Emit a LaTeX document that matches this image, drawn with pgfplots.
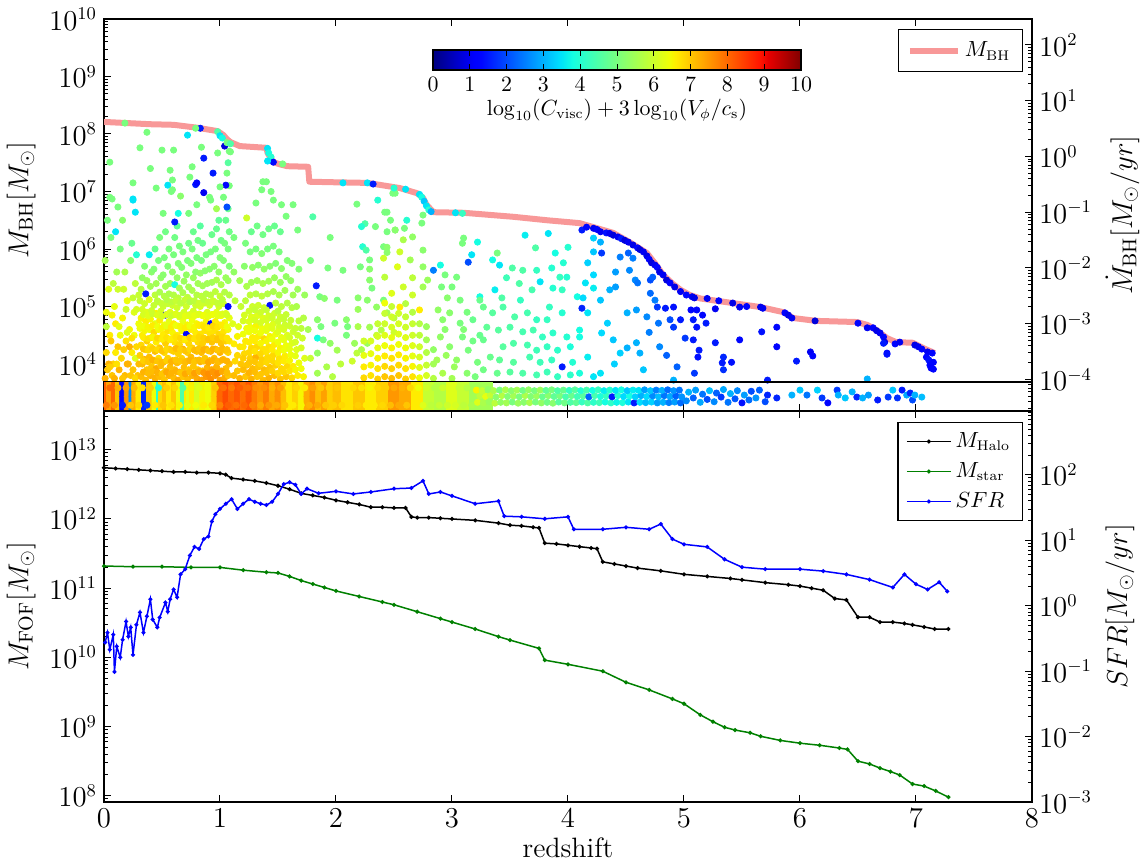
\documentclass[border=0pt]{standalone}
\usepackage{pgfplots}
\pgfplotsset{compat=1.18}
\usepackage{pgfplotstable}
\usetikzlibrary{calc}
\definecolor{mbh}{RGB}{248,152,152}
\definecolor{mplgreen}{RGB}{0,128,0}
\pgfplotsset{colormap={mpljet}{rgb(0pt)=(0,0,0.5); rgb(11pt)=(0,0,1); rgb(13pt)=(0,0.02,1); rgb(34pt)=(0,0.86,1); rgb(35pt)=(0,0.9,0.968); rgb(38pt)=(0.081,1,0.887); rgb(64pt)=(0.935,1,0.032); rgb(65pt)=(0.968,0.963,0); rgb(66pt)=(1,0.926,0); rgb(89pt)=(1,0.074,0); rgb(91pt)=(0.909,0,0); rgb(100pt)=(0.5,0,0)}}

\pgfplotstableread{
z lm
0.00 8.21
0.20 8.19
0.40 8.17
0.60 8.16
0.80 8.11
0.98 8.05
1.03 7.98
1.06 7.91
1.09 7.86
1.17 7.79
1.40 7.76
1.41 7.67
1.44 7.57
1.46 7.51
1.52 7.47
1.58 7.44
1.76 7.43
1.77 7.17
2.00 7.16
2.27 7.15
2.55 7.06
2.70 6.97
2.75 6.89
2.78 6.77
2.84 6.64
3.10 6.63
3.53 6.56
3.82 6.50
4.10 6.45
4.22 6.38
4.39 6.28
4.53 6.12
4.68 5.93
4.75 5.75
4.82 5.55
4.90 5.40
4.97 5.29
5.05 5.20
5.14 5.14
5.42 5.06
5.66 4.99
5.86 4.90
5.94 4.80
6.14 4.75
6.49 4.73
6.58 4.68
6.66 4.59
6.75 4.45
6.83 4.38
6.97 4.37
7.06 4.28
7.16 4.19
}\mbhline

\pgfplotstableread{
z lm c
0.01 5.8 5.5
0.02 4.2 6.8
0.03 3.9 7.0
0.02 4.9 6.4
0.04 5.3 6.2
0.05 4.5 6.6
0.06 6.2 5.0
0.07 3.8 7.0
0.08 4.0 6.9
0.09 5.0 6.3
0.10 4.7 6.6
0.11 5.6 5.5
0.12 4.3 7.0
0.13 3.9 7.2
0.14 6.0 5.0
0.15 4.1 6.8
0.16 4.8 6.5
0.17 5.3 6.0
0.18 3.8 7.1
0.19 4.4 6.7
0.20 5.1 6.4
0.21 4.0 7.1
0.22 4.6 6.5
0.23 5.8 5.2
0.24 4.2 6.6
0.25 3.9 7.0
0.26 4.9 6.2
0.27 5.4 5.8
0.28 4.3 6.8
0.29 3.8 7.0
0.30 4.7 6.4
0.06 4.4 7.0
0.12 5.3 6.0
0.18 5.6 5.6
0.22 4.3 7.2
0.26 4.5 6.4
0.03 6.5 5.0
0.16 6.5 5.2
0.24 6.1 4.8
0.10 6.3 3.5
0.28 5.9 4.0
0.08 5.4 5.8
0.14 4.5 6.4
0.20 4.0 7.2
0.04 4.0 7.2
0.11 4.0 6.7
0.27 4.1 6.2
0.01 3.75 7.2
0.05 3.95 6.9
0.09 3.75 7.2
0.10 4.2 6.6
0.13 4.65 6.3
0.16 3.75 7.0
0.17 4.25 6.9
0.20 4.55 6.2
0.23 3.80 7.0
0.24 4.45 6.7
0.27 3.75 6.8
0.28 4.95 6.1
0.02 4.65 5.8
0.07 4.85 6.5
0.19 4.95 6.0
0.25 5.15 5.9
0.30 4.0 7.1
0.30 5.2 5.9
0.32 3.78 7.1
0.33 4.00 7.1
0.31 4.15 6.9
0.32 4.33 6.8
0.33 4.50 6.6
0.31 4.62 6.4
0.32 4.80 6.5
0.33 4.95 6.1
0.31 5.10 5.9
0.32 5.30 5.7
0.33 5.50 5.3
0.36 3.72 7.1
0.37 3.90 7.0
0.35 4.08 7.2
0.36 4.25 6.8
0.37 4.40 6.9
0.35 4.58 6.5
0.36 4.74 6.6
0.37 4.90 6.2
0.35 5.05 6.0
0.36 5.22 1.5
0.37 5.45 5.4
0.35 5.70 5.1
0.40 3.80 7.2
0.41 3.95 7.0
0.39 4.12 7.1
0.40 4.30 6.7
0.41 4.46 6.8
0.39 4.60 6.4
0.40 4.78 6.5
0.41 4.93 6.0
0.39 5.12 6.2
0.40 5.35 5.5
0.41 5.60 5.2
0.39 5.90 3.6
0.44 3.75 7.2
0.45 3.92 7.3
0.43 4.05 6.9
0.44 4.22 7.1
0.45 4.38 6.6
0.43 4.55 6.8
0.44 4.70 6.3
0.45 4.88 6.5
0.43 5.02 5.9
0.44 5.20 5.8
0.45 5.40 5.5
0.43 5.65 5.1
0.44 6.00 4.8
0.48 3.78 7.1
0.49 3.97 7.1
0.47 4.10 6.8
0.48 4.28 7.0
0.49 4.45 6.7
0.47 4.60 6.5
0.48 4.76 6.6
0.49 4.92 6.1
0.47 5.08 5.9
0.48 5.25 5.6
0.49 5.50 5.3
0.47 5.80 5.0
0.48 6.20 5.0
0.52 3.73 7.0
0.53 3.88 7.0
0.51 4.03 7.2
0.52 4.20 6.8
0.53 4.36 6.9
0.51 4.52 6.6
0.52 4.68 6.4
0.53 4.85 1.4
0.51 5.00 6.0
0.52 5.18 5.7
0.53 5.35 5.5
0.51 5.55 5.2
0.52 5.85 5.0
0.53 6.30 4.9
0.56 3.80 7.2
0.57 3.95 7.1
0.55 4.10 6.9
0.56 4.26 7.1
0.57 4.42 6.6
0.55 4.58 6.7
0.56 4.74 6.3
0.57 4.90 6.2
0.55 5.05 5.9
0.56 5.22 5.6
0.57 5.40 5.4
0.55 5.70 5.1
0.56 6.00 5.0
0.60 3.76 7.1
0.61 3.90 7.1
0.59 4.06 7.0
0.60 4.22 6.9
0.61 4.38 6.7
0.59 4.55 6.5
0.60 4.70 6.6
0.61 4.86 6.1
0.59 5.02 6.0
0.60 5.20 5.7
0.61 5.38 3.8
0.59 5.60 5.3
0.60 5.90 5.0
0.61 6.20 4.9
0.64 3.72 7.3
0.65 3.86 7.2
0.63 4.02 7.1
0.64 4.18 6.9
0.65 4.34 6.8
0.63 4.50 6.6
0.64 4.66 6.5
0.65 4.82 6.2
0.63 4.98 6.0
0.64 5.15 5.8
0.65 5.32 5.5
0.63 5.50 5.3
0.64 5.75 5.1
0.65 6.05 5.0
0.63 6.40 4.7
0.68 3.78 7.0
0.69 3.94 7.1
0.67 4.10 6.9
0.68 4.26 7.2
0.69 4.42 6.7
0.67 4.58 6.5
0.68 4.74 6.3
0.69 4.90 6.1
0.67 5.06 5.9
0.68 5.24 5.6
0.69 5.44 5.4
0.67 5.68 5.1
0.68 5.95 5.0
0.72 3.74 7.1
0.73 3.90 7.0
0.71 4.05 7.0
0.72 4.20 6.9
0.73 4.36 6.8
0.71 4.52 1.3
0.72 4.68 6.5
0.73 4.84 6.2
0.71 5.00 6.0
0.72 5.16 5.8
0.73 5.34 5.5
0.71 5.55 5.3
0.72 5.80 5.0
0.73 6.10 4.9
0.76 3.80 7.2
0.77 3.96 7.0
0.75 4.12 7.1
0.76 4.28 6.9
0.77 4.44 6.7
0.75 4.60 6.6
0.76 4.76 6.4
0.77 4.92 6.1
0.75 5.10 5.9
0.76 5.28 5.6
0.77 5.50 5.4
0.75 5.75 5.1
0.76 6.00 5.0
0.77 6.30 4.8
0.80 3.75 7.3
0.81 3.90 7.0
0.79 4.06 7.2
0.80 4.22 7.0
0.81 4.38 6.8
0.79 4.54 6.6
0.80 4.70 6.5
0.81 4.86 6.3
0.79 5.02 6.0
0.80 5.20 5.7
0.81 5.40 5.5
0.79 5.60 5.2
0.80 5.85 5.0
0.81 6.15 4.9
0.84 3.72 7.4
0.85 3.88 7.1
0.83 4.04 7.2
0.84 4.20 7.1
0.85 4.36 6.9
0.83 4.52 6.7
0.84 4.68 6.6
0.85 4.84 6.4
0.83 5.00 6.1
0.84 5.18 5.8
0.85 5.36 5.5
0.83 5.58 5.3
0.84 5.80 5.0
0.85 6.10 4.8
0.83 6.40 4.6
0.88 3.78 7.5
0.89 3.94 7.2
0.87 4.10 7.0
0.88 4.26 7.1
0.89 4.42 6.9
0.87 4.58 6.7
0.88 4.74 6.5
0.89 4.90 6.2
0.87 5.06 6.0
0.88 5.22 5.7
0.89 5.40 5.5
0.87 5.62 5.2
0.88 5.90 5.0
0.92 3.74 7.6
0.93 3.90 7.3
0.91 4.06 7.1
0.92 4.22 7.2
0.93 4.38 7.0
0.91 4.54 6.7
0.92 4.70 1.2
0.93 4.86 6.3
0.91 5.02 6.1
0.92 5.20 5.8
0.93 5.42 5.5
0.91 5.65 5.2
0.92 5.95 5.0
0.93 6.25 4.8
0.96 3.80 7.5
0.97 3.95 7.2
0.95 4.10 7.1
0.96 4.26 7.1
0.97 4.42 7.0
0.95 4.58 6.7
0.96 4.74 6.6
0.97 4.90 6.3
0.95 5.08 6.1
0.96 5.26 5.8
0.97 5.46 5.6
0.95 5.70 5.2
0.96 6.00 5.0
0.97 6.35 4.8
1.00 3.72 7.4
1.01 3.88 7.2
0.99 4.04 7.1
1.00 4.20 7.2
1.01 4.36 7.0
0.99 4.52 6.8
1.00 4.68 6.6
1.01 4.84 6.4
0.99 5.00 6.1
1.00 5.18 5.9
1.01 5.38 5.6
0.99 5.60 5.3
1.00 5.85 5.1
1.01 6.15 4.9
0.99 6.50 4.7
1.04 3.76 7.3
1.05 3.92 7.1
1.03 4.08 7.0
1.04 4.24 7.0
1.05 4.40 6.9
1.03 4.56 6.7
1.04 4.72 6.5
1.05 4.88 6.2
1.03 5.05 6.0
1.04 5.25 5.7
1.05 5.50 5.4
1.03 5.80 5.1
1.04 6.10 5.0
1.05 6.50 4.8
1.03 6.90 5.0
1.07 3.80 7.0
1.08 4.00 7.1
1.07 4.20 6.9
1.08 4.40 6.7
1.07 4.60 6.5
1.08 4.80 6.3
1.07 5.00 1.3
1.08 5.20 5.7
1.07 5.45 5.4
1.08 5.70 5.1
1.07 6.00 5.0
1.08 6.30 4.9
1.07 6.70 4.8
1.08 7.10 5.0
1.07 7.50 4.6
1.08 7.70 5.0
0.34 3.86 7.2
0.34 4.06 6.9
0.34 4.26 7.0
0.34 4.46 6.6
0.34 4.66 6.4
0.34 4.86 6.1
0.38 3.84 7.1
0.38 4.04 7.0
0.38 4.24 6.8
0.38 4.44 6.7
0.38 4.64 6.5
0.38 4.84 6.2
0.42 3.87 7.1
0.42 4.07 7.2
0.42 4.27 6.9
0.42 4.47 6.5
0.42 4.67 6.6
0.42 4.87 6.0
0.46 3.85 7.2
0.46 4.05 7.0
0.46 4.25 6.8
0.46 4.45 6.8
0.46 4.65 6.4
0.46 4.85 6.2
0.46 5.10 5.8
0.50 3.83 7.0
0.50 4.03 7.1
0.50 4.23 7.0
0.50 4.43 6.6
0.50 4.63 6.5
0.50 4.83 6.1
0.50 5.05 5.9
0.54 3.86 7.3
0.54 4.06 6.9
0.54 4.26 6.8
0.54 4.46 6.7
0.54 4.66 6.3
0.54 4.86 6.2
0.54 5.12 5.7
0.58 3.84 7.2
0.58 4.04 7.2
0.58 4.24 6.9
0.58 4.44 6.6
0.58 4.64 6.6
0.58 4.84 6.0
0.58 5.08 5.8
0.62 3.87 7.2
0.62 4.07 7.0
0.62 4.27 7.1
0.62 4.47 6.7
0.62 4.67 6.4
0.62 4.87 6.2
0.62 5.10 5.9
0.66 3.85 7.0
0.66 4.05 7.0
0.66 4.25 6.9
0.66 4.45 6.8
0.66 4.65 6.5
0.66 4.85 6.1
0.66 5.06 5.8
0.70 3.83 7.3
0.70 4.03 7.1
0.70 4.23 7.0
0.70 4.43 6.6
0.70 4.63 6.6
0.70 4.83 6.3
0.70 5.12 5.9
0.74 3.86 7.1
0.74 4.06 7.2
0.74 4.26 6.8
0.74 4.46 6.9
0.74 4.66 6.4
0.74 4.86 6.2
0.74 5.08 5.7
0.78 3.84 7.4
0.78 4.04 7.0
0.78 4.24 7.1
0.78 4.44 6.7
0.78 4.64 6.5
0.78 4.84 6.3
0.78 5.10 5.8
0.82 3.87 7.2
0.82 4.07 7.1
0.82 4.27 7.0
0.82 4.47 6.8
0.82 4.67 6.6
0.82 4.87 6.2
0.82 5.06 6.0
0.86 3.85 7.5
0.86 4.05 7.0
0.86 4.25 7.2
0.86 4.45 6.9
0.86 4.65 6.7
0.86 4.85 6.4
0.86 5.12 5.8
0.90 3.83 7.6
0.90 4.03 7.3
0.90 4.23 7.0
0.90 4.43 7.0
0.90 4.63 6.6
0.90 4.83 6.3
0.90 5.08 5.9
0.94 3.86 7.5
0.94 4.06 7.2
0.94 4.26 7.2
0.94 4.46 6.9
0.94 4.66 6.8
0.94 4.86 6.4
0.94 5.10 6.0
0.98 3.84 7.6
0.98 4.04 7.1
0.98 4.24 7.0
0.98 4.44 7.0
0.98 4.64 6.7
0.98 4.84 6.3
0.98 5.06 5.9
1.02 3.87 7.3
1.02 4.07 7.2
1.02 4.27 7.1
1.02 4.47 6.8
1.02 4.67 6.6
1.02 4.87 6.2
1.02 5.12 5.8
1.06 3.85 7.1
1.06 4.05 7.2
1.06 4.25 7.0
1.06 4.45 6.7
1.06 4.65 6.4
1.06 4.85 6.1
0.55 7.11 3.5
0.79 7.12 1.5
1.05 7.11 1.2
0.86 6.98 1.0
0.45 7.06 5.0
0.07 6.87 5.0
0.25 6.87 3.5
0.27 6.64 3.5
0.58 7.00 5.0
0.66 6.92 5.2
0.51 6.62 5.0
0.61 6.47 1.5
0.64 6.62 3.8
0.73 6.62 5.0
0.80 6.77 5.0
0.92 6.85 5.0
0.97 6.70 5.5
1.06 6.73 2.0
0.37 8.03 5.0
0.83 8.10 1.5
0.72 7.98 3.5
0.18 8.19 5.0
0.79 8.10 5.0
0.31 7.76 5.0
0.50 7.72 5.0
0.60 7.72 5.0
0.84 7.77 5.0
1.04 7.79 0.8
1.09 7.69 5.0
0.98 7.67 5.0
0.86 7.58 1.5
0.05 7.51 5.0
0.76 7.43 5.0
0.94 7.32 1.5
0.57 7.37 5.0
0.74 7.25 5.0
1.06 7.32 5.0
0.25 7.15 5.0
0.59 7.20 5.0
0.80 7.15 1.2
0.91 6.90 5.0
1.00 7.08 5.0
0.40 7.40 5.0
0.59 7.03 5.0
0.25 6.85 3.5
0.12 6.73 5.0
0.05 6.90 5.0
0.98 8.04 4.5
1.00 7.97 3.5
1.02 7.93 3.8
1.06 7.85 5.0
1.09 7.83 4.5
1.41 7.75 3.5
1.42 7.67 3.8
1.44 7.60 4.0
1.46 7.51 1.2
1.54 7.48 5.0
1.36 7.03 5.0
1.40 7.17 5.0
1.41 7.53 3.5
2.06 7.15 3.5
2.27 7.15 3.5
2.32 7.13 1.5
1.12 3.80 7.1
1.13 4.05 6.8
1.12 4.35 6.6
1.11 4.70 6.2
1.13 5.10 5.8
1.12 5.60 5.3
1.12 6.20 5.0
1.17 3.75 7.2
1.18 4.00 7.0
1.17 4.30 6.7
1.16 4.65 6.3
1.18 5.00 5.9
1.17 5.45 5.5
1.22 3.78 7.0
1.23 3.98 7.0
1.21 4.18 6.8
1.22 4.40 6.6
1.23 4.62 6.4
1.21 4.85 6.1
1.22 5.10 5.8
1.23 5.35 5.6
1.21 5.70 5.2
1.22 6.10 5.0
1.23 6.54 6.0
1.27 3.74 7.2
1.28 3.92 7.1
1.26 4.10 6.9
1.27 4.28 6.8
1.28 4.46 6.6
1.26 4.64 6.4
1.27 4.82 6.2
1.28 5.00 6.0
1.26 5.20 5.8
1.27 5.42 5.5
1.28 5.68 5.3
1.26 5.95 5.0
1.27 6.30 4.8
1.32 3.78 7.0
1.33 3.95 7.0
1.31 4.12 7.2
1.32 4.30 6.8
1.33 4.48 6.6
1.31 4.66 6.5
1.32 4.84 6.2
1.33 5.02 6.0
1.31 5.22 5.7
1.32 5.45 5.5
1.33 5.72 5.2
1.31 6.00 5.0
1.32 6.40 4.9
1.31 6.80 5.0
1.37 3.72 7.1
1.38 3.90 7.1
1.36 4.08 6.9
1.37 4.26 6.7
1.38 4.44 6.8
1.36 4.62 6.4
1.37 4.80 6.2
1.38 4.98 6.0
1.36 5.18 5.8
1.37 5.40 5.6
1.38 5.65 5.3
1.36 5.92 5.1
1.37 6.25 4.9
1.37 7.17 5.0
1.42 3.76 7.2
1.43 3.94 7.0
1.41 4.12 6.8
1.42 4.30 6.7
1.43 4.48 6.5
1.41 4.66 6.3
1.42 4.84 6.1
1.43 5.02 1.4
1.41 5.22 5.7
1.42 5.44 5.5
1.43 5.70 5.2
1.41 6.00 5.0
1.42 6.35 4.9
1.44 7.00 5.0
1.47 3.80 7.1
1.48 3.98 6.9
1.46 4.16 6.8
1.47 4.34 6.6
1.48 4.52 6.4
1.46 4.70 6.2
1.47 4.88 6.0
1.48 5.06 5.8
1.46 5.26 5.6
1.47 5.50 5.4
1.48 5.75 5.1
1.46 6.05 5.0
1.47 6.40 4.8
1.46 6.85 5.0
1.52 3.74 7.0
1.53 3.92 6.8
1.51 4.10 6.7
1.52 4.28 6.5
1.53 4.46 6.3
1.51 4.64 6.1
1.52 4.82 6.0
1.53 5.00 5.8
1.51 5.20 5.6
1.52 5.42 5.4
1.53 5.66 5.2
1.51 5.95 5.0
1.52 6.30 4.8
1.53 6.77 5.0
1.57 3.78 7.0
1.58 3.96 6.8
1.56 4.14 6.6
1.57 4.32 6.4
1.58 4.50 6.2
1.56 4.68 6.0
1.57 4.86 5.9
1.58 5.06 5.7
1.56 5.28 5.5
1.57 5.52 5.3
1.58 5.80 5.1
1.57 6.57 5.0
1.62 3.76 6.8
1.63 3.96 6.6
1.61 4.16 6.4
1.62 4.36 6.2
1.63 4.56 6.0
1.61 4.76 5.9
1.62 4.98 5.7
1.63 5.20 5.5
1.61 5.45 5.3
1.62 5.75 5.1
1.63 6.77 5.0
1.67 3.80 6.6
1.68 4.02 6.4
1.66 4.25 6.2
1.67 4.50 6.0
1.68 4.75 5.8
1.66 5.00 5.6
1.67 5.30 5.4
1.68 5.65 5.1
1.67 6.33 5.0
1.72 3.78 6.5
1.73 4.10 6.2
1.71 4.45 6.0
1.72 4.80 5.7
1.73 5.20 5.4
1.15 3.88 7.0
1.15 4.15 6.8
1.15 4.48 6.5
1.20 3.90 7.1
1.20 4.10 6.9
1.20 4.30 6.6
1.20 4.52 6.4
1.20 4.75 6.1
1.25 3.85 7.2
1.25 4.02 7.0
1.25 4.20 6.8
1.25 4.38 6.6
1.25 4.56 6.4
1.25 4.74 6.2
1.25 4.92 6.0
1.30 3.86 7.1
1.30 4.04 7.0
1.30 4.22 6.7
1.30 4.40 6.6
1.30 4.58 6.4
1.30 4.76 6.1
1.30 4.94 5.9
1.35 3.82 7.0
1.35 4.00 6.9
1.35 4.18 6.8
1.35 4.36 6.5
1.35 4.54 6.4
1.35 4.72 6.1
1.35 4.90 6.0
1.40 3.85 7.0
1.40 4.03 6.8
1.40 4.21 6.7
1.40 4.40 6.5
1.40 4.58 6.3
1.40 4.76 6.1
1.40 4.94 5.9
1.45 3.88 6.9
1.45 4.06 6.8
1.45 4.25 6.6
1.45 4.43 6.4
1.45 4.62 6.2
1.45 4.80 6.0
1.50 3.84 6.8
1.50 4.02 6.7
1.50 4.20 6.5
1.50 4.38 6.4
1.50 4.56 6.2
1.50 4.74 6.0
1.50 4.92 5.8
1.55 3.86 6.8
1.55 4.05 6.6
1.55 4.24 6.4
1.55 4.42 6.3
1.55 4.60 6.1
1.55 4.78 5.9
1.60 3.88 6.7
1.60 4.06 6.5
1.60 4.26 6.3
1.60 4.46 6.1
1.60 4.66 6.0
1.65 3.90 6.5
1.65 4.14 6.3
1.65 4.38 6.1
1.65 4.62 5.9
1.70 3.92 6.4
1.70 4.28 6.1
1.70 4.62 5.8
1.80 6.56 4.5
1.93 5.67 5.0
2.06 5.63 5.0
2.18 6.78 5.0
1.83 5.36 1.5
1.86 5.17 5.0
1.90 5.14 5.2
2.01 5.11 5.0
1.84 4.77 5.2
1.87 4.65 5.0
1.84 4.45 3.8
1.89 4.42 5.0
1.99 4.71 5.0
2.09 4.77 5.2
2.10 4.65 5.0
2.09 4.50 5.0
1.95 4.36 5.3
2.01 4.24 5.5
1.84 4.19 5.3
1.92 3.95 5.6
2.04 4.00 5.8
1.84 3.84 5.5
1.97 3.78 5.7
2.16 4.36 5.4
2.18 4.19 5.8
2.14 4.05 6.0
2.22 4.25 5.6
2.27 4.36 5.4
2.29 5.46 5.2
2.31 5.32 5.0
2.27 5.11 5.2
2.35 4.99 5.3
2.41 5.11 5.0
2.44 4.89 5.5
2.50 4.80 5.8
2.29 4.64 5.5
2.39 4.59 5.7
2.35 4.50 5.9
2.50 4.55 6.0
2.23 6.04 4.0
2.26 5.98 4.5
2.29 5.81 5.0
2.21 5.69 5.0
2.29 5.65 5.2
2.41 6.04 5.0
2.44 5.94 5.2
2.47 6.50 5.0
2.51 6.97 5.0
2.19 5.15 5.2
2.19 4.95 5.4
2.19 4.65 5.6
1.78 5.80 5.0
1.95 6.20 5.0
1.76 4.60 5.5
1.78 4.10 5.9
2.36 6.85 4.0
2.44 6.64 5.0
2.25 6.44 4.5
2.22 6.39 4.0
2.34 6.39 5.0
2.51 6.33 5.0
2.44 6.30 5.0
2.49 6.97 5.0
2.42 6.64 5.0
2.51 6.33 5.2
2.59 6.36 5.0
2.61 6.50 4.0
2.75 6.59 5.0
2.74 6.45 5.0
2.66 6.21 5.3
2.58 6.16 5.6
2.44 6.03 5.2
2.75 5.98 5.2
2.55 5.95 6.0
2.41 5.84 6.0
2.64 5.81 5.5
2.53 5.69 6.2
2.75 5.69 5.3
2.42 5.51 5.8
2.66 5.50 5.8
2.58 5.34 6.0
2.75 5.34 5.5
2.79 5.46 5.4
2.48 5.23 6.2
2.66 5.20 6.0
2.42 5.06 6.4
2.55 4.99 6.6
2.72 4.94 6.6
2.24 3.76 6.8
2.24 3.95 6.6
2.24 4.15 6.3
2.24 4.40 6.0
2.30 3.80 6.7
2.30 3.98 6.5
2.30 4.18 6.3
2.30 4.40 6.1
2.36 3.74 6.9
2.36 3.92 6.7
2.36 4.10 6.5
2.36 4.28 6.3
2.36 4.48 6.1
2.36 4.70 5.9
2.42 3.78 7.0
2.42 3.96 6.8
2.42 4.14 6.6
2.42 4.32 6.4
2.42 4.50 6.2
2.42 4.70 6.0
2.42 4.88 5.9
2.48 3.75 7.1
2.48 3.92 6.9
2.48 4.10 6.7
2.48 4.28 6.5
2.48 4.46 6.3
2.48 4.64 6.1
2.48 4.82 6.0
2.48 5.00 5.9
2.54 3.80 7.0
2.54 3.98 6.8
2.54 4.16 6.6
2.54 4.34 6.4
2.54 4.52 6.2
2.54 4.70 6.1
2.54 4.88 6.0
2.60 3.74 6.9
2.60 3.92 6.7
2.60 4.10 6.5
2.60 4.28 6.4
2.60 4.46 6.2
2.60 4.64 6.0
2.60 4.82 5.9
2.60 5.05 5.7
2.66 3.78 6.7
2.66 3.96 6.5
2.66 4.14 6.3
2.66 4.32 6.2
2.66 4.50 6.0
2.66 4.70 5.9
2.66 4.90 5.7
2.72 3.76 6.4
2.72 3.94 6.2
2.72 4.12 6.1
2.72 4.30 6.0
2.72 4.50 5.8
2.72 4.70 5.7
2.78 3.80 6.1
2.78 3.98 5.9
2.78 4.20 5.7
2.78 4.42 5.5
2.78 4.65 5.4
2.84 3.75 5.7
2.84 4.00 5.5
2.84 4.25 5.3
2.72 6.95 3.5
2.74 6.90 3.8
2.76 6.83 3.2
2.78 6.75 3.5
2.80 6.68 4.0
2.82 6.65 3.0
2.60 7.04 3.5
2.50 7.06 4.0
3.03 6.63 3.5
3.09 6.62 4.2
2.84 5.63 2.5
2.90 5.72 3.8
2.94 5.55 5.0
3.04 5.51 5.0
3.09 6.10 5.0
3.10 6.19 5.0
3.22 6.12 3.8
3.17 5.90 3.5
3.14 5.77 2.0
2.91 5.34 5.0
3.00 5.34 5.0
3.07 5.11 5.0
2.96 5.15 5.2
3.13 4.90 5.0
2.98 4.89 5.2
2.88 4.94 5.3
2.92 4.77 5.2
3.07 4.71 5.0
3.18 4.77 4.8
3.24 5.17 3.8
3.24 4.50 4.8
3.09 4.47 5.0
2.90 4.47 5.3
2.98 4.30 5.2
3.14 4.24 5.0
2.87 4.07 5.5
3.04 4.07 5.3
3.22 4.03 5.0
2.92 3.84 5.6
3.13 3.84 5.2
3.02 3.95 5.4
3.18 4.40 4.9
3.10 4.60 5.1
2.95 4.15 5.4
3.20 3.78 5.0
3.00 3.75 5.5
2.94 4.60 5.2
3.39 5.93 5.0
3.35 5.81 3.8
3.52 5.67 4.5
3.61 5.63 4.5
3.73 5.63 4.2
3.63 6.24 3.6
3.83 6.27 3.5
3.72 6.02 4.5
3.89 5.93 3.8
4.00 6.03 4.0
3.96 5.76 4.0
3.86 5.67 4.0
3.93 5.51 4.2
3.76 5.43 3.5
3.87 5.32 4.0
3.69 5.29 4.4
3.95 5.29 4.2
3.37 5.29 3.6
3.43 5.15 4.5
3.24 5.11 4.8
3.59 5.11 4.2
3.84 4.99 4.2
3.27 4.99 4.8
3.35 4.89 4.6
3.44 4.99 4.5
3.54 4.82 4.5
3.65 4.89 4.4
3.73 4.77 4.2
3.82 4.77 4.2
3.95 4.89 4.0
3.30 4.64 4.7
3.40 4.59 4.6
3.50 4.64 4.5
3.61 4.56 4.4
3.70 4.59 4.4
3.78 4.47 4.2
3.87 4.54 4.1
3.99 4.47 4.0
3.27 4.42 4.8
3.44 4.30 4.6
3.53 4.36 4.5
3.65 4.33 4.4
3.73 4.24 4.3
3.82 4.30 4.2
3.91 4.24 4.1
4.02 4.30 3.9
3.33 4.12 4.8
3.41 4.07 4.7
3.53 4.03 4.6
3.67 4.12 4.4
3.76 4.03 4.3
3.86 4.07 4.2
3.95 3.95 1.5
4.04 4.03 4.0
3.27 3.90 4.9
3.39 3.84 4.8
3.50 3.86 4.6
3.61 3.84 4.5
3.73 3.81 4.4
3.82 3.86 4.3
3.91 3.78 4.2
4.02 3.81 4.1
4.10 3.84 3.9
4.22 3.78 3.5
3.99 5.51 4.0
4.08 5.17 3.8
4.10 4.59 3.8
3.58 5.40 4.5
3.47 5.50 4.3
3.41 5.72 3.5
4.12 6.33 1.5
4.16 6.38 1.3
4.22 6.19 3.3
4.28 6.12 3.0
4.29 5.93 1.8
4.22 5.95 3.2
4.17 5.76 3.3
4.22 5.55 3.4
4.15 5.41 3.5
4.22 5.32 3.6
4.12 4.97 1.6
4.13 5.15 3.4
4.17 4.89 3.5
4.28 5.11 3.2
4.36 5.29 3.0
4.41 5.34 2.8
4.45 5.86 2.5
4.41 5.60 2.8
4.52 5.93 2.2
4.56 5.84 2.5
4.53 5.63 2.6
4.58 5.46 2.6
4.60 5.41 2.4
4.71 5.46 2.0
4.73 5.51 2.2
4.71 5.23 2.3
4.75 5.11 2.5
4.77 4.99 1.8
4.51 4.89 3.0
4.59 4.94 2.8
4.68 4.82 2.6
4.78 4.71 2.4
4.84 4.97 1.5
4.91 4.99 1.4
4.88 4.77 2.0
4.91 4.64 1.8
4.97 4.77 1.5
5.01 4.45 1.8
5.08 4.42 1.5
5.11 4.94 1.3
5.09 3.84 1.8
4.94 3.95 2.2
4.91 3.72 3.0
4.65 3.90 3.2
4.51 4.28 3.0
4.59 4.37 3.0
4.39 4.42 3.2
4.45 4.19 3.3
4.62 4.19 3.0
4.79 4.30 2.6
4.29 4.54 3.4
4.34 4.71 3.3
4.10 4.47 3.8
4.17 4.12 3.6
4.28 3.84 3.5
4.40 4.00 3.3
4.70 4.55 2.5
4.85 4.15 2.2
4.22 6.36 1.0
4.25 6.34 1.2
4.28 6.30 1.0
4.33 6.28 1.4
4.36 6.27 1.0
4.39 6.24 0.8
4.43 6.21 1.0
4.46 6.18 1.5
4.49 6.15 0.8
4.52 6.12 1.0
4.56 6.07 0.9
4.60 6.02 1.2
4.62 5.99 0.8
4.65 5.95 1.0
4.68 5.88 0.9
4.70 5.82 1.1
4.72 5.76 0.8
4.75 5.72 1.0
4.77 5.68 1.2
4.79 5.60 0.9
4.82 5.55 1.0
4.85 5.46 0.8
4.88 5.41 1.1
4.92 5.34 0.9
4.97 5.26 1.0
5.02 5.20 1.3
5.07 5.17 1.0
5.09 5.15 0.9
5.27 4.37 1.5
5.48 4.42 1.3
5.67 4.56 1.4
5.80 4.30 1.2
5.97 4.05 1.5
6.09 4.21 1.0
6.11 4.14 1.2
5.13 4.24 1.5
5.12 4.12 1.4
5.34 4.12 1.6
5.33 4.02 1.5
5.34 3.90 1.7
5.41 4.03 1.4
5.06 4.94 1.2
5.08 4.77 1.5
5.11 4.64 1.4
5.16 4.85 1.3
5.19 4.71 1.5
5.27 4.96 1.0
5.80 4.64 1.3
5.72 3.72 1.5
6.58 3.74 3.0
5.20 5.14 1.0
5.30 5.10 1.2
5.42 5.06 0.9
5.48 4.99 1.0
5.54 5.00 1.2
5.66 4.99 0.9
5.68 4.97 1.0
5.87 4.89 1.1
5.90 4.85 0.9
5.93 4.80 1.0
6.13 4.75 0.8
6.50 4.71 1.2
6.58 4.63 1.0
6.63 4.63 1.1
6.66 4.58 0.9
6.69 4.54 1.0
6.72 4.47 1.2
6.73 4.38 0.9
6.75 4.19 1.3
6.72 4.36 1.5
6.82 4.35 1.2
6.86 4.38 1.0
6.99 4.33 0.9
7.02 4.30 1.0
7.05 4.26 1.1
7.10 4.21 1.0
7.14 4.19 1.2
7.09 4.12 1.3
7.11 4.07 1.4
7.15 4.03 1.2
7.12 3.98 1.3
7.13 3.93 1.1
7.15 3.91 1.2
6.75 4.17 1.4
}\topscatter

\pgfplotstableread{
z y c
0.00 0.16 8.1
0.04 0.16 7.4
0.08 0.16 8.0
0.12 0.16 7.0
0.15 0.16 1.3
0.20 0.16 7.5
0.23 0.16 2.6
0.25 0.16 7.3
0.30 0.16 6.6
0.345 0.16 1.6
0.39 0.16 7.0
0.44 0.16 6.4
0.46 0.16 4.0
0.48 0.16 6.8
0.52 0.16 7.1
0.56 0.16 6.6
0.60 0.16 7.0
0.64 0.16 6.4
0.68 0.16 4.5
0.70 0.16 6.6
0.72 0.16 6.3
0.76 0.16 6.6
0.80 0.16 6.1
0.85 0.16 6.5
0.90 0.16 6.4
0.95 0.16 6.9
1.00 0.16 8.0
1.05 0.16 8.3
1.10 0.16 8.0
1.15 0.16 8.2
1.20 0.16 7.9
1.25 0.16 8.2
1.30 0.16 7.8
1.35 0.16 7.5
1.40 0.16 7.8
1.45 0.16 7.3
1.50 0.16 7.6
1.55 0.16 7.1
1.60 0.16 6.6
1.65 0.16 6.9
1.70 0.16 6.5
1.75 0.16 7.3
1.80 0.16 7.6
1.85 0.16 7.1
1.90 0.16 7.4
1.95 0.16 6.9
2.00 0.16 7.1
2.10 0.16 6.7
2.20 0.16 7.0
2.30 0.16 6.6
2.40 0.16 6.9
2.50 0.16 7.5
2.60 0.16 7.3
2.70 0.16 6.6
2.80 0.16 5.9
2.90 0.16 5.7
3.00 0.16 6.2
3.10 0.16 5.9
3.20 0.16 5.5
3.30 0.16 5.5
0.00 0.84 8.1
0.04 0.84 7.4
0.08 0.84 8.0
0.12 0.84 7.0
0.15 0.84 1.3
0.20 0.84 7.5
0.23 0.84 2.6
0.25 0.84 7.3
0.30 0.84 6.6
0.345 0.84 1.6
0.39 0.84 7.0
0.44 0.84 6.4
0.46 0.84 4.0
0.48 0.84 6.8
0.52 0.84 7.1
0.56 0.84 6.6
0.60 0.84 7.0
0.64 0.84 6.4
0.68 0.84 4.5
0.70 0.84 6.6
0.72 0.84 6.3
0.76 0.84 6.6
0.80 0.84 6.1
0.85 0.84 6.5
0.90 0.84 6.4
0.95 0.84 6.9
1.00 0.84 8.0
1.05 0.84 8.3
1.10 0.84 8.0
1.15 0.84 8.2
1.20 0.84 7.9
1.25 0.84 8.2
1.30 0.84 7.8
1.35 0.84 7.5
1.40 0.84 7.8
1.45 0.84 7.3
1.50 0.84 7.6
1.55 0.84 7.1
1.60 0.84 6.6
1.65 0.84 6.9
1.70 0.84 6.5
1.75 0.84 7.3
1.80 0.84 7.6
1.85 0.84 7.1
1.90 0.84 7.4
1.95 0.84 6.9
2.00 0.84 7.1
2.10 0.84 6.7
2.20 0.84 7.0
2.30 0.84 6.6
2.40 0.84 6.9
2.50 0.84 7.5
2.60 0.84 7.3
2.70 0.84 6.6
2.80 0.84 5.9
2.90 0.84 5.7
3.00 0.84 6.2
3.10 0.84 5.9
3.20 0.84 5.5
3.30 0.84 5.5
}\stripband

\pgfplotstableread{
z y c
0.02 0.20 7.8
0.09 0.20 7.5
0.16 0.20 1.5
0.23 0.20 7.0
0.30 0.20 6.8
0.37 0.20 1.8
0.44 0.20 6.6
0.51 0.20 7.0
0.58 0.20 6.7
0.65 0.20 6.5
0.72 0.20 6.3
0.79 0.20 6.4
0.86 0.20 6.6
0.93 0.20 6.8
1.00 0.20 7.7
1.07 0.20 8.1
1.14 0.20 7.9
1.21 0.20 8.0
1.28 0.20 7.7
1.35 0.20 7.3
1.42 0.20 7.5
1.49 0.20 7.3
1.56 0.20 7.0
1.63 0.20 6.6
1.70 0.20 6.5
1.77 0.20 7.2
1.84 0.20 7.3
1.91 0.20 7.0
1.98 0.20 6.9
2.05 0.20 6.8
2.12 0.20 6.7
2.19 0.20 6.9
2.26 0.20 6.6
2.33 0.20 6.6
2.40 0.20 6.8
2.47 0.20 7.1
2.54 0.20 7.3
2.61 0.20 7.0
2.68 0.20 6.6
2.75 0.20 6.2
2.82 0.20 5.8
2.89 0.20 5.9
2.96 0.20 6.0
3.03 0.20 6.1
3.10 0.20 5.8
3.17 0.20 5.6
0.05 0.80 8.0
0.12 0.80 7.2
0.19 0.80 7.4
0.26 0.80 7.1
0.33 0.80 6.7
0.40 0.80 6.9
0.47 0.80 4.0
0.54 0.80 6.9
0.61 0.80 6.8
0.68 0.80 4.6
0.75 0.80 6.5
0.82 0.80 6.2
0.89 0.80 6.4
0.96 0.80 7.0
1.03 0.80 7.9
1.10 0.80 7.8
1.17 0.80 8.1
1.24 0.80 7.9
1.31 0.80 7.6
1.38 0.80 7.6
1.45 0.80 7.2
1.52 0.80 7.4
1.59 0.80 6.6
1.66 0.80 6.8
1.73 0.80 6.6
1.80 0.80 7.4
1.87 0.80 7.0
1.94 0.80 6.9
2.01 0.80 7.0
2.08 0.80 6.7
2.15 0.80 6.8
2.22 0.80 6.7
2.29 0.80 6.5
2.36 0.80 6.8
2.43 0.80 6.9
2.50 0.80 7.3
2.57 0.80 7.2
2.64 0.80 6.8
2.71 0.80 6.4
2.78 0.80 6.0
2.85 0.80 5.7
2.92 0.80 6.0
2.99 0.80 6.2
3.06 0.80 5.9
3.13 0.80 5.7
3.22 0.30 6.2
3.24 0.52 5.8
3.21 0.72 6.5
3.27 0.28 5.6
3.29 0.50 6.3
3.26 0.70 5.9
3.32 0.32 5.4
3.33 0.55 5.9
3.31 0.74 5.3
3.37 0.27 5.8
3.38 0.48 5.2
3.36 0.70 5.6
3.42 0.30 5.3
3.43 0.53 5.7
3.41 0.72 5.0
3.47 0.28 5.5
3.48 0.50 5.1
3.46 0.73 5.6
3.52 0.31 5.0
3.53 0.52 5.5
3.51 0.70 5.2
3.57 0.27 5.4
3.58 0.49 5.0
3.56 0.72 5.5
3.62 0.30 5.2
3.63 0.53 5.6
3.61 0.71 4.9
3.67 0.29 5.6
3.68 0.50 5.1
3.66 0.73 5.3
3.72 0.31 5.0
3.73 0.52 5.4
3.71 0.70 5.0
3.77 0.28 5.3
3.78 0.49 4.8
3.76 0.72 5.4
3.82 0.30 4.9
3.83 0.53 5.2
3.81 0.71 4.7
3.87 0.27 5.2
3.88 0.50 4.7
3.86 0.73 5.0
3.92 0.31 4.6
3.93 0.52 5.0
3.91 0.70 4.5
3.97 0.28 4.9
3.98 0.49 4.4
3.96 0.72 4.8
4.02 0.30 4.5
4.03 0.53 4.8
4.01 0.71 4.2
4.07 0.29 4.7
4.08 0.50 4.3
4.06 0.73 4.6
4.12 0.31 4.2
4.13 0.52 4.6
4.11 0.70 4.0
4.17 0.28 4.5
4.18 0.49 2.2
4.16 0.72 4.4
4.22 0.30 4.1
4.23 0.53 4.4
4.21 0.71 3.8
4.27 0.29 4.3
4.28 0.50 3.9
4.26 0.73 4.2
4.32 0.31 3.8
4.33 0.52 4.2
4.31 0.70 3.6
4.37 0.28 4.1
4.38 0.49 1.5
4.36 0.72 4.0
4.42 0.30 3.7
4.43 0.53 4.0
4.41 0.71 3.5
4.47 0.29 3.9
4.48 0.50 3.4
4.46 0.73 3.8
4.52 0.31 3.5
4.53 0.52 3.8
4.51 0.70 3.2
4.57 0.28 1.5
4.58 0.49 3.3
4.56 0.72 3.6
4.62 0.30 3.4
4.63 0.53 3.0
4.61 0.71 3.5
4.67 0.29 3.1
4.68 0.50 3.4
4.66 0.73 2.8
4.72 0.31 3.3
4.73 0.52 2.6
4.71 0.70 3.2
4.77 0.28 2.8
4.78 0.49 3.1
4.76 0.72 2.5
4.82 0.30 3.0
4.83 0.53 2.4
4.81 0.71 3.0
4.87 0.29 2.5
4.88 0.50 2.9
4.86 0.73 2.3
4.92 0.31 2.8
4.93 0.52 2.2
4.91 0.70 2.7
4.97 0.28 2.3
4.98 0.49 2.7
4.96 0.72 2.4
5.02 0.35 2.6
5.04 0.65 3.0
5.08 0.45 2.2
5.10 0.72 2.8
5.14 0.30 2.9
5.16 0.58 2.4
5.20 0.40 2.0
5.22 0.70 3.1
5.26 0.32 2.6
5.28 0.62 2.2
5.32 0.48 1.8
5.34 0.74 2.9
5.38 0.30 2.4
5.40 0.60 3.0
5.44 0.42 2.1
5.46 0.70 2.6
5.50 0.28 1.4
5.52 0.55 2.8
5.56 0.38 2.3
5.58 0.68 2.0
5.62 0.45 2.7
5.65 0.72 2.2
5.70 0.32 2.0
5.72 0.55 1.6
5.80 0.45 1.6
5.93 0.55 3.0
6.00 0.72 3.2
6.06 0.55 2.4
6.15 0.72 3.3
6.24 0.28 1.2
6.19 0.45 1.8
6.32 0.72 1.8
6.33 0.55 3.0
6.39 0.45 3.2
6.45 0.66 3.0
6.49 0.48 1.6
6.54 0.45 3.0
6.59 0.55 2.8
6.67 0.38 1.5
6.76 0.48 1.8
6.80 0.72 3.2
6.84 0.45 1.7
6.88 0.72 1.5
6.92 0.55 2.9
6.95 0.62 1.6
6.97 0.38 2.0
6.99 0.55 3.0
7.05 0.48 3.1
}\stripdots

\pgfplotstableread{
z lm
0.00 12.74
0.10 12.73
0.20 12.72
0.30 12.71
0.40 12.70
0.50 12.69
0.60 12.68
0.70 12.68
0.80 12.67
0.90 12.67
1.00 12.66
1.05 12.64
1.10 12.59
1.20 12.57
1.30 12.55
1.40 12.52
1.50 12.48
1.60 12.43
1.70 12.37
1.80 12.34
1.90 12.31
2.00 12.27
2.10 12.24
2.20 12.21
2.30 12.17
2.40 12.17
2.50 12.16
2.60 12.16
2.65 12.03
2.70 12.02
2.80 12.02
2.90 12.01
3.00 12.00
3.20 11.98
3.40 11.94
3.50 11.91
3.60 11.90
3.70 11.88
3.75 11.87
3.80 11.65
3.90 11.64
4.00 11.62
4.10 11.60
4.20 11.58
4.25 11.57
4.30 11.38
4.40 11.35
4.50 11.32
4.60 11.29
4.80 11.25
5.00 11.20
5.20 11.17
5.40 11.14
5.50 11.12
5.70 11.08
5.90 11.05
6.00 11.03
6.10 11.00
6.20 10.97
6.30 10.85
6.40 10.83
6.50 10.58
6.60 10.58
6.69 10.51
6.80 10.51
6.90 10.49
6.97 10.47
7.07 10.44
7.16 10.41
7.28 10.41
}\halo

\pgfplotstableread{
z lm
0.00 11.32
0.25 11.31
0.50 11.31
0.75 11.30
1.00 11.30
1.20 11.26
1.40 11.23
1.50 11.22
1.60 11.17
1.70 11.11
1.80 11.06
1.90 11.01
2.00 10.96
2.20 10.88
2.40 10.80
2.50 10.76
2.70 10.66
2.90 10.56
3.00 10.51
3.20 10.41
3.40 10.30
3.50 10.25
3.75 10.13
3.80 9.96
4.00 9.90
4.30 9.80
4.50 9.64
4.70 9.53
4.90 9.40
5.00 9.33
5.14 9.17
5.25 9.07
5.35 8.99
5.44 8.95
5.57 8.91
5.66 8.86
5.83 8.80
6.00 8.76
6.17 8.73
6.34 8.69
6.41 8.67
6.50 8.50
6.60 8.46
6.69 8.40
6.78 8.35
6.86 8.30
6.97 8.17
7.07 8.14
7.17 8.07
7.28 7.98
}\star

\pgfplotstableread{
z ls
0.01 -0.56
0.03 -0.41
0.05 -0.67
0.08 -0.44
0.09 -1.01
0.11 -0.62
0.14 -0.79
0.16 -0.52
0.19 -0.24
0.21 -0.47
0.23 -0.33
0.25 -0.75
0.28 -0.29
0.31 -0.10
0.34 -0.41
0.37 -0.16
0.40 0.10
0.42 -0.21
0.46 -0.33
0.48 -0.18
0.53 0.05
0.55 -0.09
0.57 0.10
0.60 0.25
0.63 0.13
0.66 0.48
0.70 0.56
0.74 0.77
0.78 0.90
0.82 0.87
0.86 1.02
0.90 1.06
0.93 1.29
0.96 1.40
1.00 1.48
1.05 1.56
1.10 1.63
1.15 1.48
1.20 1.56
1.25 1.63
1.30 1.59
1.35 1.56
1.40 1.54
1.45 1.59
1.50 1.71
1.55 1.86
1.60 1.89
1.65 1.85
1.70 1.71
1.75 1.79
1.85 1.72
2.00 1.75
2.15 1.71
2.30 1.74
2.50 1.79
2.65 1.80
2.75 1.91
2.80 1.71
2.90 1.74
3.00 1.68
3.20 1.56
3.40 1.60
3.45 1.37
3.60 1.36
3.80 1.33
4.00 1.36
4.05 1.17
4.30 1.17
4.50 1.20
4.70 1.17
4.80 1.25
4.90 1.02
5.00 0.94
5.20 0.90
5.35 0.71
5.50 0.59
5.70 0.56
6.00 0.56
6.20 0.53
6.40 0.48
6.60 0.40
6.80 0.28
6.90 0.48
7.00 0.33
7.10 0.25
7.20 0.36
7.27 0.22
}\sfr

\pgfplotsset{
  every axis/.append style={
    scale only axis,
    tick label style={font=\fontsize{13.5}{15}\selectfont},
    label style={font=\fontsize{14}{16}\selectfont},
    major tick length=3.5pt,
    minor tick length=1.8pt,
    tick style={black, line width=0.5pt},
    axis line style={line width=0.8pt},
    tick align=inside,
  },
}

\begin{document}
\begin{tikzpicture}
\useasboundingbox (0,0) rectangle (572.5pt,-431pt);

% ---------- top panel: frame with log ticks (left)
\begin{axis}[at={(52pt,-9.5pt)}, anchor=north west, width=464pt, height=181.5pt,
  xmin=0, xmax=8, ymode=log, ymin=4864, ymax=1e10,
  xtick={0,...,8}, xticklabels={}, xtick pos=right,
  ytick pos=left,
  ylabel={$M_{\rm BH}[M_\odot]$}]
\end{axis}

% ---------- top panel: data (log10 units)
\begin{axis}[at={(52pt,-9.5pt)}, anchor=north west, width=464pt, height=181.5pt,
  xmin=0, xmax=8, ymin=3.687, ymax=10,
  axis line style={draw=none}, xtick=\empty, ytick=\empty,
  colormap name=mpljet, point meta min=0, point meta max=10,
  colorbar horizontal,
  colorbar style={
    at={($(parent axis.north west)+(164.5pt,-7pt)$)}, anchor=north west,
    width=184pt, height=10pt,
    xtick={0,...,10}, xtick pos=both, xticklabel pos=left,
    tick align=inside, major tick length=3pt,
    axis line style={line width=0.6pt},
    tick label style={font=\fontsize{10.5}{12}\selectfont},
    xlabel={$\log_{10}(C_{\rm visc})+3\log_{10}(V_\phi/c_{\rm s})$},
    label style={font=\fontsize{10.5}{12}\selectfont},
    xlabel style={yshift=3pt},
  },
  legend style={at={(0.99,0.972)}, anchor=north east, draw=black, line width=0.6pt,
    font=\fontsize{10.5}{12}\selectfont, inner xsep=4pt, inner ysep=4pt},
  legend cell align=left,
  legend image code/.code={\draw[#1] (0pt,0pt) -- (24pt,0pt);},
]
\addplot[mbh, line width=3pt, line join=round] table[x=z, y=lm] {\mbhline};
\addlegendentry{$M_{\rm BH}$}
\addplot[scatter, only marks, mark=*, mark size=1.55pt, point meta=explicit,
  scatter/use mapped color={draw=mapped color, fill=mapped color},
  forget plot] table[x=z, y=lm, meta=c] {\topscatter};
\end{axis}

% ---------- strip
\begin{axis}[at={(52pt,-191pt)}, anchor=north west, width=464pt, height=14.5pt,
  xmin=0, xmax=8, ymin=0, ymax=1, ytick=\empty,
  xtick={0,...,8}, xticklabels={}, xtick pos=left,
  colormap name=mpljet, point meta min=0, point meta max=10]
\addplot[matrix plot*, mesh/cols=60, point meta=explicit] table[x=z, y=y, meta=c] {\stripband};
\addplot[scatter, only marks, mark=*, mark size=1.55pt, point meta=explicit,
  scatter/use mapped color={draw=mapped color, fill=mapped color}]
  table[x=z, y=y, meta=c] {\stripdots};
\end{axis}

% ---------- top right axis (Mdot)
\begin{axis}[at={(52pt,-9.5pt)}, anchor=north west, width=464pt, height=196pt,
  xmin=0, xmax=8, ymode=log, ymin=2.72e-5, ymax=292.4,
  axis line style={draw=none}, xtick=\empty,
  ytick pos=right, yticklabel pos=right,
  ylabel={$\dot M_{\rm BH}[M_\odot/yr]$}]
\end{axis}

% ---------- bottom panel frame
\begin{axis}[at={(52pt,-205.5pt)}, anchor=north west, width=464pt, height=195.5pt,
  xmin=0, xmax=8, ymode=log, ymin=8.13e7, ymax=3.63e13,
  xtick={0,...,8}, xtick pos=both, xticklabel pos=left,
  ytick pos=left,
  xlabel={redshift}, ylabel={$M_{\rm FOF}[M_\odot]$},
  xlabel style={yshift=2pt}]
\end{axis}

% ---------- bottom panel masses (log10 units)
\begin{axis}[at={(52pt,-205.5pt)}, anchor=north west, width=464pt, height=195.5pt,
  xmin=0, xmax=8, ymin=7.91, ymax=13.56,
  axis line style={draw=none}, xtick=\empty, ytick=\empty]
\addplot[black, line width=0.75pt, mark=*, mark size=0.6pt] table[x=z, y=lm] {\halo};
\addplot[mplgreen, line width=0.75pt, mark=*, mark size=0.6pt] table[x=z, y=lm] {\star};
\end{axis}

% ---------- bottom right SFR axis
\begin{axis}[at={(52pt,-205.5pt)}, anchor=north west, width=464pt, height=195.5pt,
  xmin=0, xmax=8, ymode=log, ymin=1e-3, ymax=950,
  axis line style={draw=none}, xtick=\empty,
  ytick pos=right, yticklabel pos=right,
  ylabel={$SFR[M_\odot/yr]$}]
\end{axis}

% ---------- SFR data and legend (log10 units)
\begin{axis}[at={(52pt,-205.5pt)}, anchor=north west, width=464pt, height=195.5pt,
  xmin=0, xmax=8, ymin=-3, ymax=2.978,
  axis line style={draw=none}, xtick=\empty, ytick=\empty,
  legend style={at={(0.99,0.972)}, anchor=north east, draw=black, line width=0.6pt,
    font=\fontsize{10.5}{12}\selectfont, inner xsep=4pt, inner ysep=3pt, row sep=2pt},
  legend cell align=left,
  legend image code/.code={\draw[mark repeat=2, mark phase=2, #1] plot coordinates {(0pt,0pt) (11pt,0pt) (22pt,0pt)};},
]
\addlegendimage{black, line width=0.75pt, mark=*, mark size=0.6pt}
\addlegendentry{$M_{\rm Halo}$}
\addlegendimage{mplgreen, line width=0.75pt, mark=*, mark size=0.6pt}
\addlegendentry{$M_{\rm star}$}
\addplot[blue, line width=0.75pt, mark=*, mark size=0.6pt] table[x=z, y=ls] {\sfr};
\addlegendentry{$SFR$}
\end{axis}
\end{tikzpicture}
\end{document}
